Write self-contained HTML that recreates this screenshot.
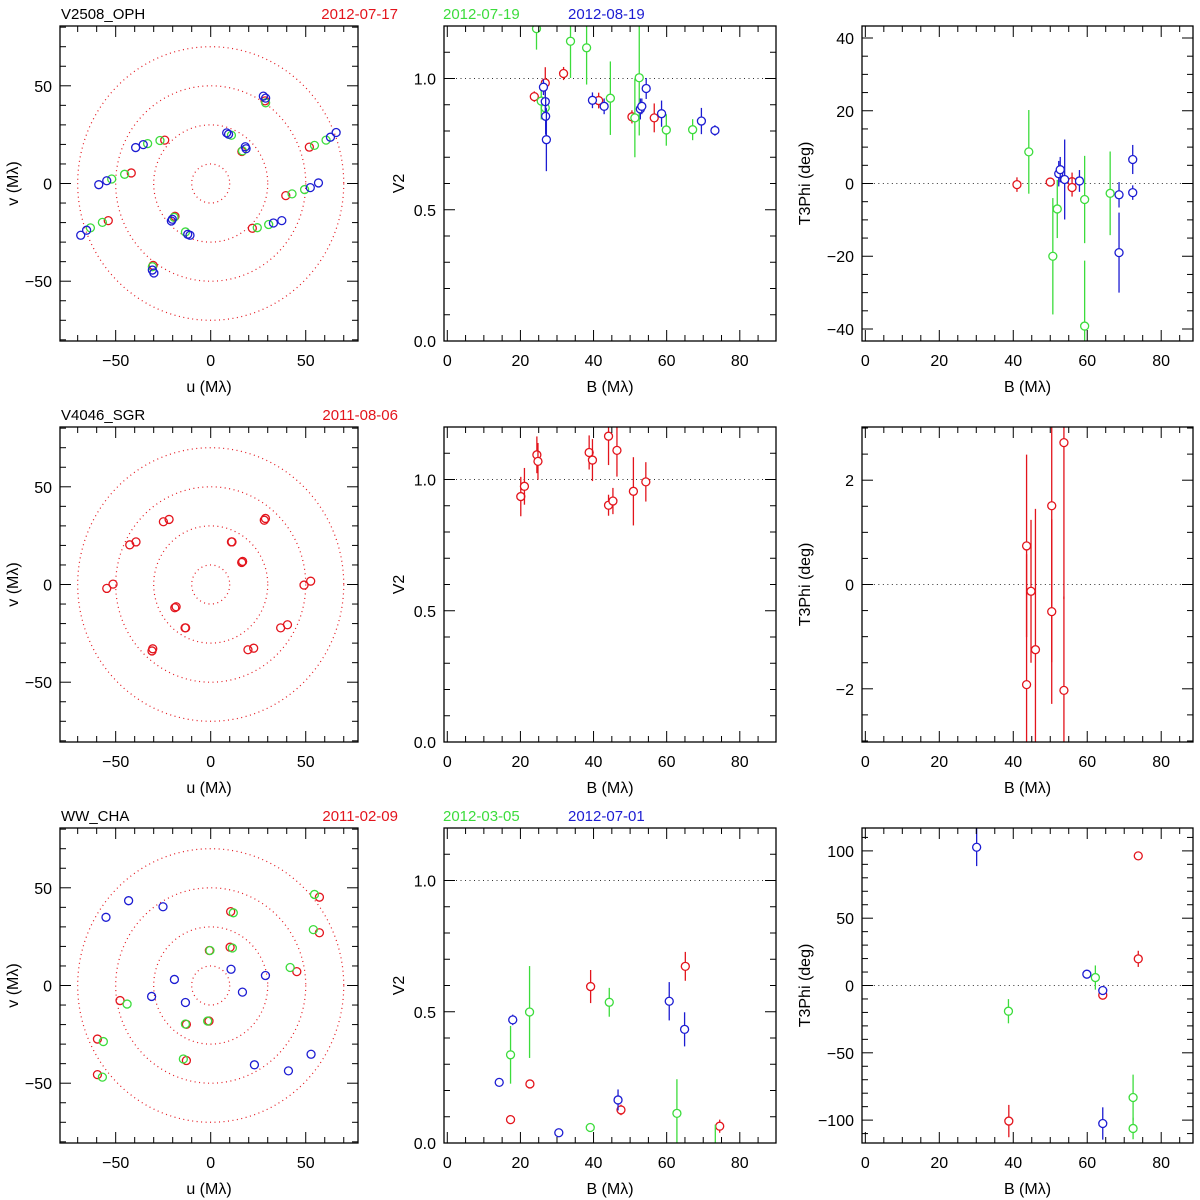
<!DOCTYPE html>
<html><head><meta charset="utf-8">
<style>
html,body{margin:0;padding:0;background:#fff;}
svg{display:block;font-family:"Liberation Sans",sans-serif;}
</style></head>
<body>
<svg id="fig" width="1200" height="1200" viewBox="0 0 1200 1200" xmlns="http://www.w3.org/2000/svg"></svg>
<script>
// ---------- DATA ----------
// Row 1: V2508_OPH  (u,v)
const r1_uv_red_u = [28.6,16.4,51.9,39.5,21.9,-53.9,-41.8,-24.2,-18.8,-30.3];
const r1_uv_red_v = [42.3,16.4,18.6,-6.2,-22.9,-19.0,5.4,22.2,-16.8,-41.9];
const r1_uv_green_u = [28.9,10.9,16.7,60.7,54.6,49.4,42.8,30.5,24.5,-63.3,-57.0,-52.1,-45.3,-33.2,-26.7,-19.3,-13.3,-30.7];
const r1_uv_green_v = [41.3,24.7,16.7,22.2,19.5,-3.1,-5.3,-21.0,-22.6,-22.7,-19.9,2.3,4.7,20.4,22.0,-17.3,-24.8,-42.6];
const r1_uv_blue_u = [27.7,28.9,8.4,9.4,18.2,18.6,66.0,63.0,56.7,52.4,37.4,33.0,-68.4,-65.3,-58.9,-54.7,-39.5,-35.5,-20.2,-20.7,-12.1,-10.9,-30.7,-29.9];
const r1_uv_blue_v = [44.7,43.7,25.9,25.2,18.8,17.8,26.1,23.7,0.3,-2.1,-19.0,-20.2,-26.5,-23.9,-0.6,1.4,18.4,19.9,-18.3,-19.2,-26.0,-26.5,-44.3,-45.8];
// Row 1 V2
const r1_v2_red_b = [23.8,26.8,31.8,41.4,50.5,56.6];
const r1_v2_red_y = [0.931,0.983,1.019,0.916,0.854,0.850];
const r1_v2_red_e = [0.02,0.06,0.025,0.03,0.025,0.055];
const r1_v2_green_b = [24.4,25.7,26.8,33.7,38.1,44.6,51.3,52.5,59.9,67.1];
const r1_v2_green_y = [1.19,0.914,0.888,1.142,1.117,0.925,0.85,1.003,0.804,0.805];
const r1_v2_green_e = [0.08,0.07,0.05,0.14,0.14,0.14,0.15,0.22,0.06,0.04];
const r1_v2_blue_b = [26.3,26.8,26.9,27.1,39.7,42.9,52.8,53.2,54.4,58.6,69.5,73.2];
const r1_v2_blue_y = [0.967,0.912,0.856,0.767,0.917,0.894,0.884,0.894,0.962,0.866,0.838,0.802];
const r1_v2_blue_e = [0.03,0.04,0.07,0.12,0.03,0.03,0.04,0.03,0.04,0.05,0.05,0.02];
// Row 1 T3Phi
const r1_t3_red_b = [41.0,50.0,55.9,55.9];
const r1_t3_red_y = [-0.3,0.4,0.5,-1.1];
const r1_t3_red_e = [2,1,2.5,2.5];
const r1_t3_green_b = [44.2,50.7,51.9,59.3,59.3,66.2];
const r1_t3_green_y = [8.7,-20,-7,-4.4,-39.2,-2.7];
const r1_t3_green_e = [11.5,16,8,12,18,11.5];
const r1_t3_blue_b = [52.3,52.7,53.9,57.9,68.6,68.6,72.3,72.3];
const r1_t3_blue_y = [2.7,3.8,1.1,0.7,-3.1,-19,6.6,-2.5];
const r1_t3_blue_e = [3.5,3.5,11,3,3.5,11,4,2];
// Row 2: V4046_SGR
const r2_uv_red_u = [-24.9,-21.9,-42.6,-39.3,-54.7,-51.4,-30.9,-30.5,-13.5,-13.2,-18.9,-18.2,10.9,11.2,16.3,16.8,28.2,28.8,49.1,52.6,36.8,40.4,19.6,22.6];
const r2_uv_red_v = [32.1,33.3,20.3,21.8,-2.0,0.2,-34.0,-32.9,-22.2,-22.2,-11.9,-11.4,21.8,21.8,11.3,11.8,32.9,33.8,-0.3,1.7,-22.2,-20.6,-33.4,-32.6];
const r2_v2_red_b = [20.1,21.1,24.5,24.8,38.8,39.7,44.1,44.1,45.3,46.4,50.9,54.3];
const r2_v2_red_y = [0.935,0.974,1.094,1.069,1.103,1.074,1.165,0.902,0.918,1.111,0.955,0.991];
const r2_v2_red_e = [0.075,0.07,0.07,0.07,0.065,0.08,0.11,0.04,0.05,0.1,0.13,0.075];
const r2_t3_red_b = [43.6,43.6,44.8,46.0,50.4,50.4,53.7,53.7];
const r2_t3_red_y = [0.74,-1.92,-0.13,-1.25,1.51,-0.52,2.72,-2.03];
const r2_t3_red_e = [1.75,2.5,1.37,2.7,3,1.77,3,1.8];
// Row 3: WW_CHA
const r3_uv_red_u = [-59.6,-59.6,-47.7,-12.8,-12.8,-0.9,10.5,10.2,-0.7,45.3,57.2,57.2];
const r3_uv_red_v = [-27.4,-45.6,-7.7,-38.4,-19.9,-18.2,37.8,19.6,17.9,7.1,27.0,45.2];
const r3_uv_green_u = [-56.5,-57.0,-44.0,-14.4,-13.3,-1.6,11.9,11.4,-0.4,41.8,54.0,54.6];
const r3_uv_green_v = [-28.7,-46.9,-9.5,-37.6,-19.7,-18.2,37.2,19.2,17.9,9.2,28.6,46.6];
const r3_uv_blue_u = [-55.1,-43.2,-25.1,-19.1,-31.1,-13.3,10.7,28.8,16.7,23.0,40.9,52.8];
const r3_uv_blue_v = [34.9,43.4,40.3,3.1,-5.6,-8.7,8.3,5.1,-3.4,-40.6,-43.7,-35.2];
const r3_v2_red_b = [17.3,22.6,39.2,47.5,65.1,74.5];
const r3_v2_red_y = [0.089,0.225,0.596,0.126,0.673,0.064];
const r3_v2_red_e = [0.01,0.015,0.063,0.02,0.055,0.025];
const r3_v2_green_b = [17.3,22.5,39.1,44.3,62.8,73.3];
const r3_v2_green_y = [0.336,0.499,0.059,0.536,0.113,-0.02];
const r3_v2_green_e = [0.11,0.175,0.01,0.055,0.13,0.09];
const r3_v2_blue_b = [14.2,17.9,30.5,46.7,60.7,64.9];
const r3_v2_blue_y = [0.231,0.469,0.039,0.164,0.540,0.433];
const r3_v2_blue_e = [0.005,0.02,0.005,0.04,0.073,0.065];
const r3_t3_red_b = [38.8,64.2,73.8,73.8];
const r3_t3_red_y = [-100.7,-7.2,96.3,19.8];
const r3_t3_red_e = [12,3,3,6];
const r3_t3_green_b = [38.7,62.2,72.4,72.4];
const r3_t3_green_y = [-19.1,5.9,-83.2,-106.2];
const r3_t3_green_e = [9,9,17,8];
const r3_t3_blue_b = [30.1,59.9,64.2,64.2];
const r3_t3_blue_y = [102.7,8.4,-3.7,-102.5];
const r3_t3_blue_e = [14,1.5,2.5,12];
// Tick labels
const uvTicks = [-50,0,50];
const v2Ticks = [0,0.5,1.0];
const bTicks = [0,20,40,60,80];
const t3TicksR1 = [-40,-20,0,20,40];
const t3TicksR2 = [-2,0,2];
const t3TicksR3 = [-100,-50,0,50,100];
const objectNames = ["V2508_OPH","V4046_SGR","WW_CHA"];
const datesR1 = ["2012-07-17","2012-07-19","2012-08-19"];
const datesR2 = ["2011-08-06"];
const datesR3 = ["2011-02-09","2012-03-05","2012-07-01"];

// ---------- DRAWING ----------
const NS = "http://www.w3.org/2000/svg";
const svg = document.getElementById("fig");
const COL = {red:"#e3141c", green:"#3cdc3c", blue:"#1c1cd2"};
let clipId = 0;
function el(tag, attrs, parent){
  const e = document.createElementNS(NS, tag);
  for (const k in attrs) e.setAttribute(k, attrs[k]);
  (parent||svg).appendChild(e);
  return e;
}
function fmt(v, dec){
  const s = Math.abs(v).toFixed(dec);
  return (v < 0 ? "\u2212" : "") + s;
}
function makePanel(o){
  const g = el("g", {});
  
  
  const sx = v => o.x0 + (v - o.xd[0]) / (o.xd[1]-o.xd[0]) * (o.x1 - o.x0);
  const sy = v => o.y1 - (v - o.yd[0]) / (o.yd[1]-o.yd[0]) * (o.y1 - o.y0);
  const id = "clip" + (clipId++);
  const cp = el("clipPath", {id:id}, g);
  el("rect", {x:o.x0, y:o.y0, width:o.x1-o.x0, height:o.y1-o.y0}, cp);
  const inner = el("g", {"clip-path":"url(#"+id+")"}, g);
  // ticks
  const tg = el("g", {stroke:"#000","stroke-width":1}, g);
  
  
  const start = Math.ceil(o.xd[0]/o.xmin)*o.xmin;
  for (let v = start; v <= o.xd[1]+1e-9; v += o.xmin){
    const vv = Math.round(v/o.xmin)*o.xmin;
    const major = Math.abs(vv/o.xmaj - Math.round(vv/o.xmaj)) < 1e-6;
    const L = major ? 11 : 6; const x = sx(vv);
    el("line",{x1:x,y1:o.y1,x2:x,y2:o.y1-L},tg);
    el("line",{x1:x,y1:o.y0,x2:x,y2:o.y0+L},tg);
  }
  const ys = Math.ceil(o.yd[0]/o.ymin)*o.ymin;
  for (let v = ys; v <= o.yd[1]+1e-9; v += o.ymin){
    const vv = Math.round(v/o.ymin)*o.ymin;
    const major = Math.abs(vv/o.ymaj - Math.round(vv/o.ymaj)) < 1e-6;
    const L = major ? 11 : 6; const y = sy(vv);
    el("line",{x1:o.x0,y1:y,x2:o.x0+L,y2:y},tg);
    el("line",{x1:o.x1,y1:y,x2:o.x1-L,y2:y},tg);
  }
  el("rect",{x:o.x0,y:o.y0,width:o.x1-o.x0,height:o.y1-o.y0,fill:"none",stroke:"#000","stroke-width":1.3},g);
  // tick labels
  o.xticks.forEach(v=>{
    const t = el("text",{x:sx(v),y:o.y1+25,"font-size":16,"text-anchor":"middle"},g);
    
    
    t.textContent = fmt(v, o.xdec);
  });
  o.yticks.forEach(v=>{
    const t = el("text",{x:o.x0-8,y:sy(v)+6,"font-size":16,"text-anchor":"end"},g);
    
    
    t.textContent = fmt(v, o.ydec);
  });
  const xt = el("text",{x:(o.x0+o.x1)/2,y:o.y1+51,"font-size":16,"text-anchor":"middle"},g);
  
  
  xt.textContent = o.xlabel;
  const yx = o.x0 - o.ylabOff, yy = (o.y0+o.y1)/2;
  const yt = el("text",{x:yx,y:yy,"font-size":16,"text-anchor":"middle",transform:"rotate(-90 "+yx+" "+yy+")"},g);
  
  
  yt.textContent = o.ylabel;
  return {g:inner, sx:sx, sy:sy};
}
function uvPanel(row){
  const off = row*401;
  const p = makePanel({name:"uv-plot-row"+(row+1), x0:60,x1:358,y0:26+off,y1:341+off,
    xd:[-79.3,77.5], yd:[-80.6,80.6], xmaj:50,xmin:10,ymaj:50,ymin:10,
    xticks:uvTicks, yticks:uvTicks, xdec:0, ydec:0, xlabel:"u (M\u03bb)", ylabel:"v (M\u03bb)", ylabOff:42});
  [10,30,50,70].forEach(r=>{
    const c = el("ellipse",{cx:p.sx(0),cy:p.sy(0),rx:p.sx(r)-p.sx(0),ry:p.sy(0)-p.sy(r),fill:"none",stroke:COL.red,"stroke-width":1.2,"stroke-dasharray":"1 3.5"},p.g);
    
    
  });
  return p;
}
function uvPoints(p, us, vs, color){
  for (let i=0;i<us.length;i++){
    const c = el("circle",{cx:p.sx(us[i]),cy:p.sy(vs[i]),r:4,fill:"none",stroke:color,"stroke-width":1.3},p.g);
    
    
  }
}
function errPoints(p, bs, ys, es, color){
  for (let i=0;i<bs.length;i++){
    const x = p.sx(bs[i]);
    const l = el("line",{x1:x,x2:x,y1:p.sy(ys[i]+es[i]),y2:p.sy(ys[i]-es[i]),stroke:color,"stroke-width":1.3},p.g);
    
    
    const c = el("circle",{cx:x,cy:p.sy(ys[i]),r:4,fill:"#fff",stroke:color,"stroke-width":1.3},p.g);
    
    
  }
}
function refLine(p, yv){
  const l = el("line",{x1:p.sx(-5),x2:p.sx(95),y1:p.sy(yv),y2:p.sy(yv),stroke:"#333","stroke-width":1,"stroke-dasharray":"1 3.5"},p.g);
  
  
}
function v2Panel(row){
  const off=row*401;
  const p = makePanel({name:"v2-plot-row"+(row+1), x0:444,x1:776,y0:26+off,y1:341+off,
    xd:[-0.9,89.9], yd:[0,1.2], xmaj:20,xmin:5,ymaj:0.5,ymin:0.1,
    xticks:bTicks, yticks:v2Ticks, xdec:0, ydec:1, xlabel:"B (M\u03bb)", ylabel:"V2", ylabOff:40});
  refLine(p,1.0); return p;
}
function t3Panel(row, yd, maj, min, ticks){
  const off=row*401;
  const p = makePanel({name:"t3phi-plot-row"+(row+1), x0:862,x1:1193,y0:26+off,y1:341+off,
    xd:[-0.9,88.6], yd:yd, xmaj:20,xmin:5,ymaj:maj,ymin:min,
    xticks:bTicks, yticks:ticks, xdec:0, ydec:0, xlabel:"B (M\u03bb)", ylabel:"T3Phi (deg)", ylabOff:52});
  refLine(p,0); return p;
}
function title(row, name, dates){
  const off=row*401;
  const t = el("text",{x:61,y:19+off,"font-size":15});
  
  
  t.textContent = name;
  const pos = [[398,"end"],[443,"start"],[568,"start"]];
  const cols = [COL.red,COL.green,COL.blue];
  dates.forEach((d,i)=>{
    const e = el("text",{x:pos[i][0],y:19+off,"font-size":15,"text-anchor":pos[i][1],fill:cols[i]});
    
    
    e.textContent = d;
  });
}
// Row 1
title(0, objectNames[0], datesR1);
let p = uvPanel(0);
uvPoints(p, r1_uv_red_u, r1_uv_red_v, COL.red);
uvPoints(p, r1_uv_green_u, r1_uv_green_v, COL.green);
uvPoints(p, r1_uv_blue_u, r1_uv_blue_v, COL.blue);
p = v2Panel(0);
errPoints(p, r1_v2_red_b, r1_v2_red_y, r1_v2_red_e, COL.red);
errPoints(p, r1_v2_green_b, r1_v2_green_y, r1_v2_green_e, COL.green);
errPoints(p, r1_v2_blue_b, r1_v2_blue_y, r1_v2_blue_e, COL.blue);
p = t3Panel(0, [-43.3,43.3], 20, 5, t3TicksR1);
errPoints(p, r1_t3_red_b, r1_t3_red_y, r1_t3_red_e, COL.red);
errPoints(p, r1_t3_green_b, r1_t3_green_y, r1_t3_green_e, COL.green);
errPoints(p, r1_t3_blue_b, r1_t3_blue_y, r1_t3_blue_e, COL.blue);
// Row 2
title(1, objectNames[1], datesR2);
p = uvPanel(1);
uvPoints(p, r2_uv_red_u, r2_uv_red_v, COL.red);
p = v2Panel(1);
errPoints(p, r2_v2_red_b, r2_v2_red_y, r2_v2_red_e, COL.red);
p = t3Panel(1, [-3.02,3.02], 2, 0.5, t3TicksR2);
errPoints(p, r2_t3_red_b, r2_t3_red_y, r2_t3_red_e, COL.red);
// Row 3
title(2, objectNames[2], datesR3);
p = uvPanel(2);
uvPoints(p, r3_uv_red_u, r3_uv_red_v, COL.red);
uvPoints(p, r3_uv_green_u, r3_uv_green_v, COL.green);
uvPoints(p, r3_uv_blue_u, r3_uv_blue_v, COL.blue);
p = v2Panel(2);
errPoints(p, r3_v2_red_b, r3_v2_red_y, r3_v2_red_e, COL.red);
errPoints(p, r3_v2_green_b, r3_v2_green_y, r3_v2_green_e, COL.green);
errPoints(p, r3_v2_blue_b, r3_v2_blue_y, r3_v2_blue_e, COL.blue);
p = t3Panel(2, [-117,117], 50, 10, t3TicksR3);
errPoints(p, r3_t3_red_b, r3_t3_red_y, r3_t3_red_e, COL.red);
errPoints(p, r3_t3_green_b, r3_t3_green_y, r3_t3_green_e, COL.green);
errPoints(p, r3_t3_blue_b, r3_t3_blue_y, r3_t3_blue_e, COL.blue);
</script>
</body></html>
